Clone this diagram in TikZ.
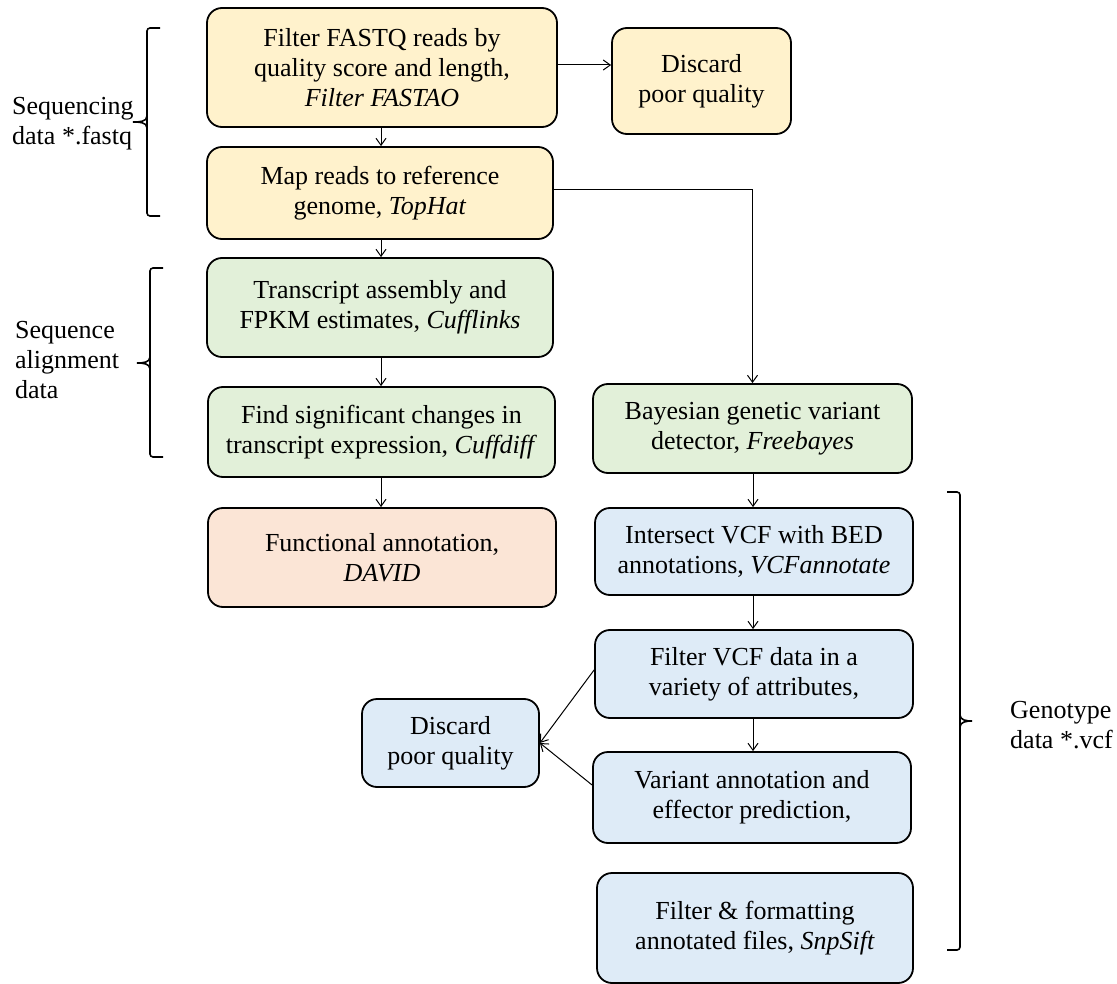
\documentclass[tikz,border=0pt]{standalone}
\usepackage{fontspec}
\setmainfont{Liberation Serif}
\usetikzlibrary{arrows.meta}
\definecolor{yel}{RGB}{255,242,204}
\definecolor{grn}{RGB}{226,240,217}
\definecolor{sal}{RGB}{251,229,214}
\definecolor{blu}{RGB}{222,235,247}
\begin{document}
\begin{tikzpicture}[x=1pt,y=-1pt,
  box/.style={draw=black, line width=1.8pt, rounded corners=15pt, align=center,
    font=\fontsize{26}{30}\selectfont, inner sep=0pt},
  lbl/.style={align=left, font=\fontsize{26}{30}\selectfont, inner sep=0pt},
  arr/.style={-{Straight Barb[length=7pt,width=10pt]}, line width=1pt},
  brk/.style={line width=1.6pt, rounded corners=3pt}]
\useasboundingbox (0,0) rectangle (1117,984);

% boxes
\node[box, fill=yel, minimum width=350pt, minimum height=119pt] (A) at (382,67.5)
  {Filter FASTQ reads by\\quality score and length,\\\textit{Filter FASTAO}};
\node[box, fill=yel, minimum width=179pt, minimum height=106pt] (D1) at (701.5,81)
  {Discard\\poor quality};
\node[box, fill=yel, minimum width=346pt, minimum height=92pt] (B) at (380,193)
  {Map reads to reference\\genome, \textit{TopHat}};
\node[box, fill=grn, minimum width=346pt, minimum height=99pt] (C) at (380,307.5)
  {Transcript assembly and\\FPKM estimates, \textit{Cufflinks}};
\node[box, fill=grn, minimum width=347pt, minimum height=90pt] (D) at (381.5,432)
  {Find significant changes in\\transcript expression, \textit{Cuffdiff}};
\node[box, fill=sal, minimum width=348pt, minimum height=99pt] (E) at (382,557.5)
  {Functional annotation,\\\textit{DAVID}};
\node[box, fill=grn, minimum width=319pt, minimum height=89pt] (F) at (752.5,428.5)
  {Bayesian genetic variant\\detector, \textit{Freebayes}};
\node[box, fill=blu, minimum width=318pt, minimum height=87pt] (G) at (754,551.5)
  {Intersect VCF with BED\\annotations, \textit{VCFannotate}};
\node[box, fill=blu, minimum width=318pt, minimum height=88pt] (H) at (754,674)
  {Filter VCF data in a\\variety of attributes,};
\node[box, fill=blu, minimum width=318pt, minimum height=91pt] (I) at (752,797.5)
  {Variant annotation and\\effector prediction,};
\node[box, fill=blu, minimum width=316pt, minimum height=110pt] (J) at (755,928)
  {Filter \& formatting\\annotated files, \textit{SnpSift}};
\node[box, fill=blu, minimum width=177pt, minimum height=88pt] (K) at (450.5,743)
  {Discard\\poor quality};

% connectors
\draw[arr] (A.south -| 381,0) -- (B.north -| 381,0);
\draw[arr] (A.east |- 0,65) -- (D1.west |- 0,65);
\draw[arr] (B.south -| 381,0) -- (C.north -| 381,0);
\draw[arr] (C.south -| 381,0) -- (D.north -| 381,0);
\draw[arr] (D.south -| 381,0) -- (E.north -| 381,0);
\draw[arr] (B.east |- 0,190) -| (F.north);
\draw[arr] (F.south -| 753,0) -- (G.north -| 753,0);
\draw[arr] (G.south -| 753,0) -- (H.north -| 753,0);
\draw[arr] (H.south -| 753,0) -- (I.north -| 753,0);
\draw[arr] (H.west |- 0,670) -- (K.east);
\draw[arr] (I.west |- 0,785) -- (K.east);

% brackets
\draw[brk] (160,28) -- (147,28) -- (147,216) -- (160,216);
\draw[line width=1.6pt] (147,116) to[out=-90,in=0] (133,122);
\draw[line width=1.6pt] (147,128) to[out=90,in=0] (133,122);
\node[lbl, anchor=west] (L1) at (12,124) {Sequencing\\data *.fastq};

\draw[brk] (163,268) -- (150,268) -- (150,457) -- (163,457);
\draw[line width=1.6pt] (150,357) to[out=-90,in=0] (137,363);
\draw[line width=1.6pt] (150,369) to[out=90,in=0] (137,363);
\node[lbl, anchor=west] (L2) at (15,360) {Sequence\\alignment\\data};

\draw[brk] (947,492) -- (960,492) -- (960,950) -- (947,950);
\draw[line width=1.6pt] (960,715) to[out=-90,in=180] (972,721);
\draw[line width=1.6pt] (960,727) to[out=90,in=180] (972,721);
\node[lbl, anchor=west] (L3) at (1010,725) {Genotype\\data *.vcf};
\end{tikzpicture}
\end{document}
